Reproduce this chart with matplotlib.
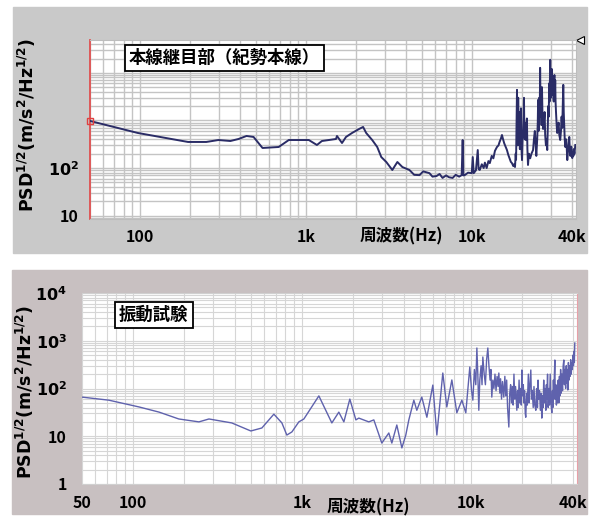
import numpy as np
import matplotlib
matplotlib.use("Agg")
import matplotlib.pyplot as plt
from matplotlib.patches import Rectangle
from matplotlib.ticker import LogLocator, NullFormatter

plt.rcParams['font.family'] = ['Noto Sans CJK JP', 'DejaVu Sans']
plt.rcParams['mathtext.fontset'] = 'dejavusans'

# 上段: 本線継目部(紀勢本線)
top_freq = [50, 97, 195, 251, 297, 351, 393, 439, 484, 548, 686, 789, 907, 1042,
            1166, 1250, 1520, 1540, 1652, 1746, 1900, 2094, 2214, 2310, 2512, 2693,
            2850, 3054, 3320, 3562, 3818, 4210, 4500, 4842, 5100, 5561, 5800, 6133,
            6400, 6668, 7000, 7300, 7670, 8000, 8400, 8695, 8817, 8900, 9070, 9500,
            10000, 10140, 10280, 10600, 10870, 11000, 11170, 11500, 11800, 12000,
            12300, 12600, 12850, 13200, 13500, 13800, 14190, 14500, 14700, 15000,
            15210, 15450, 15700, 16000, 16300, 16600, 16900, 17200, 17470, 17800,
            18000, 18230, 18400, 18500, 18650, 18740, 18820, 18900, 18980, 19050,
            19150, 19270, 19400, 19500, 19650, 19800, 19900, 20090, 20250, 20400,
            20550, 20650, 20750, 20900, 21050, 21230, 21400, 21500, 21650, 21830,
            22100, 22500, 22900, 23420, 23700, 24000, 24300, 24500, 24800, 25000,
            25120, 25250, 25400, 25550, 25700, 25830, 25950, 26100, 26200, 26350,
            26500, 26700, 26930, 27200, 27500, 27700, 28000, 28250, 28510, 28700,
            28900, 29100, 29300, 29450, 29600, 29720, 29850, 30000, 30150, 30300,
            30400, 30600, 30800, 30980, 31100, 31200, 31350, 31500, 31650, 31850,
            32000, 32200, 32500, 32740, 33000, 33400, 33700, 34140, 34500, 34800,
            35100, 35400, 35620, 35850, 36100, 36350, 36620, 36900, 37100, 37400,
            37650, 37900, 38200, 38450, 38710, 39000, 39300, 39500, 39800, 40100,
            40370, 40700, 41000, 41200, 41600, 42090]
top_psd = [975, 546, 353, 353, 388, 370, 408, 472, 450, 264, 277, 388, 388, 388,
           305, 370, 408, 472, 336, 450, 546, 662, 730, 546, 388, 277,
           170, 134, 91, 134, 105, 91, 72, 71, 85, 78, 66, 68,
           75, 62, 70, 64, 62, 72, 66, 71, 388, 70, 71, 80,
           78, 170, 78, 90, 239, 95, 91, 120, 100, 130,
           100, 140, 127, 180, 160, 230, 277, 300, 350, 420,
           495, 400, 330, 280, 239, 190, 160, 135, 127, 110,
           120, 105, 200, 150, 1500, 4390, 400, 1200, 300, 3000,
           500, 450, 1500, 250, 900, 1800, 300, 147, 400, 600,
           1200, 2980, 500, 400, 900, 388, 600, 1100, 250, 116,
           200, 160, 200, 239, 400, 600, 300, 180, 400, 900,
           2700, 600, 800, 3000, 1500, 12740, 3000, 1200, 2000, 800,
           5000, 1200, 662, 900, 1500, 500, 300, 400, 239, 600,
           2000, 1200, 6000, 2500, 9000, 18800, 4000, 3000, 9000, 4000,
           12000, 3500, 8000, 8240, 3000, 2500, 7000, 9000, 3000, 7000,
           2500, 1500, 800, 546, 700, 900, 500, 388, 600, 1200,
           700, 2500, 5590, 1500, 800, 400, 277, 350, 400, 250,
           147, 200, 250, 350, 450, 250, 180, 200, 280, 180,
           162, 220, 180, 250, 200, 305]

# 下段: 振動試験
bot_freq = [50, 72, 109, 143, 187, 246, 282, 385, 499, 580, 683, 762, 815, 873,
            960, 1028, 1261, 1505, 1655, 1773, 1923, 2088, 2173, 2490, 2667, 2973,
            3271, 3409, 3648, 3908, 4123, 4297, 4600, 4790, 5129, 5495, 5960, 6295,
            6827, 7210, 7723, 8266, 8850, 9340, 9863, 10100, 10280, 10500, 10700,
            10860, 11000, 11150, 11300, 11500, 11650, 11780, 12000, 12200, 12400,
            12610, 12800, 13000, 13150, 13310, 13500, 13700, 13900, 14100, 14300,
            14500, 14650, 14850, 15000, 15200, 15400, 15670, 15900, 16100, 16300,
            16500, 16790, 17000, 17200, 17400, 17600, 17800, 18000, 18200, 18400,
            18720, 18900, 19100, 19300, 19500, 19700, 19900, 20040, 20250, 20450,
            20600, 20800, 21000, 21140, 21400, 21600, 21900, 22100, 22300, 22650,
            22850, 23100, 23400, 23650, 23900, 24250, 24500, 24800, 25000, 25200,
            25500, 25800, 26050, 26310, 26550, 26800, 27000, 27200, 27500, 27800,
            28000, 28180, 28450, 28700, 28950, 29200, 29500, 29800, 30150, 30400,
            30600, 30800, 31000, 31200, 31420, 31600, 31850, 32100, 32300, 32600,
            32900, 33180, 33450, 33700, 34000, 34300, 34600, 34900, 35200, 35510,
            35800, 36100, 36400, 36700, 37000, 37300, 37500, 37800, 38100, 38400,
            38700, 39000, 39300, 39620, 39900, 40200, 40500, 40800, 41000, 41230]
bot_psd = [66, 57, 41, 32, 23, 20, 23, 19, 12.9, 14.9, 29, 19, 10.6, 12.3,
           20, 23, 70, 19, 32, 20, 60, 22, 24, 20, 22, 7.2,
           11.7, 7.2, 17.2, 5.7, 10.6, 22, 57, 35, 66, 25, 118, 10.6,
           211, 41, 151, 31, 57, 31, 282, 90, 57, 250, 120,
           705, 200, 35, 150, 300, 120, 457, 200, 120, 400,
           705, 300, 150, 250, 66, 150, 100, 200, 90, 180,
           110, 211, 80, 160, 60, 140, 66, 180, 70, 150,
           40, 15.6, 80, 120, 50, 110, 45, 200, 60, 110,
           35, 90, 40, 150, 50, 100, 45, 244, 70, 120,
           50, 90, 30, 25, 80, 45, 200, 50, 100, 244,
           60, 90, 40, 110, 45, 35, 100, 40, 150, 60,
           90, 35, 80, 24, 70, 40, 150, 50, 100, 35,
           120, 60, 200, 40, 100, 45, 200, 50, 31, 90,
           40, 150, 60, 180, 395, 60, 120, 45, 100, 50,
           150, 50, 180, 70, 250, 80, 200, 90, 300, 395,
           120, 250, 100, 300, 130, 250, 93, 350, 150, 300,
           180, 400, 200, 342, 250, 500, 300, 600, 350, 897]

x_ticks = [100, 1000, 10000, 40000]
x_labels = ['100', '1k', '10k', '40k']

W, H = 595, 517
fig = plt.figure(figsize=(W / 100, H / 100), dpi=100)
fig.patch.set_facecolor('white')

def fx(px):
    return px / W

def fy(py):
    return 1 - py / H

# 背景パネル
fig.patches.append(Rectangle((fx(13), fy(253)), fx(574), 246 / H,
                             transform=fig.transFigure, color='#c9c9c9', zorder=-5))
fig.patches.append(Rectangle((fx(12), fy(514)), fx(575), 244 / H,
                             transform=fig.transFigure, color='#c8c0c1', zorder=-5))

ax1 = fig.add_axes([fx(90), fy(219), fx(486), 179 / H])
ax2 = fig.add_axes([fx(82), fy(484), fx(495), 191 / H])

for ax in (ax1, ax2):
    ax.set_zorder(2)
    ax.set_xscale('log')
    ax.set_yscale('log')
    ax.set_facecolor('white')
    ax.xaxis.set_minor_locator(LogLocator(base=10, subs=np.arange(1, 10), numticks=100))
    ax.yaxis.set_minor_locator(LogLocator(base=10, subs=np.arange(1, 10), numticks=100))
    ax.xaxis.set_minor_formatter(NullFormatter())
    ax.yaxis.set_minor_formatter(NullFormatter())
    ax.tick_params(which='both', length=0)

# 上段
ax1.grid(which='both', color='#c4c4c4', lw=1.0)
ax1.plot(top_freq, top_psd, color='#2a2c66', lw=1.4, zorder=3)
ax1.plot(top_freq[0], top_psd[0], marker='s', ms=4, mfc='none', mec='#e04040',
         mew=1, zorder=4, clip_on=False)
ax1.set_xlim(50, 42500)
ax1.set_ylim(8.5, 49000)
ax1.set_xticks(x_ticks)
ax1.set_xticklabels(x_labels, fontweight='bold', fontsize=11.5)
ax1.set_yticks([10, 100])
ax1.set_yticklabels(['10', r'$\mathbf{10^2}$'], fontweight='bold', fontsize=11.5)
ax1.tick_params(axis='x', pad=7)
ax1.tick_params(axis='y', pad=8)
for s in ('top', 'right', 'bottom'):
    ax1.spines[s].set_color('#bdbdbd')
ax1.spines['left'].set_color('#e05050')
ax1.spines['left'].set_linewidth(1.3)
ax1.plot([1.008], [1.0], marker='<', ms=6, mfc='white', mec='black', mew=0.8,
         transform=ax1.transAxes, clip_on=False)
ax1.text(0.08, 0.90, '本線継目部（紀勢本線）', transform=ax1.transAxes,
         fontsize=12.5, fontweight='bold', va='center', ha='left', zorder=5,
         bbox=dict(boxstyle='square,pad=0.25', fc='white', ec='black', lw=1.3))

# 下段
ax2.grid(which='both', color='#d6d6d6', lw=0.8)
ax2.plot(bot_freq, bot_psd, color='#5f62ad', lw=1.0, zorder=3)
ax2.set_xlim(50, 42500)
ax2.set_ylim(1, 10000)
ax2.set_xticks([50] + x_ticks)
ax2.set_xticklabels(['50'] + x_labels, fontweight='bold', fontsize=11.5)
ax2.set_yticks([1, 10, 100, 1000, 10000])
ax2.set_yticklabels(['1', '10', r'$\mathbf{10^2}$', r'$\mathbf{10^3}$', r'$\mathbf{10^4}$'],
                    fontweight='bold', fontsize=11.5)
ax2.tick_params(axis='x', pad=8)
ax2.tick_params(axis='y', pad=11)
for s in ('top', 'bottom'):
    ax2.spines[s].set_color('#d0d0d0')
ax2.spines['left'].set_visible(False)
ax2.spines['right'].set_color('#e8a0a8')
ax2.text(0.075, 0.885, '振動試験', transform=ax2.transAxes,
         fontsize=12.5, fontweight='bold', va='center', ha='left', zorder=5,
         bbox=dict(boxstyle='square,pad=0.25', fc='white', ec='black', lw=1.3))

ylab = r'$\mathbf{PSD^{1/2}(m/s^2/Hz^{1/2})}$'
fig.text(fx(27), fy(125), ylab, rotation=90, ha='center', va='center', fontsize=12.5)
fig.text(fx(25), fy(392), ylab, rotation=90, ha='center', va='center', fontsize=12.5)
fig.text(fx(401), fy(236), '周波数(Hz)', ha='center', va='center',
         fontsize=12, fontweight='bold')
fig.text(fx(368), fy(507), '周波数(Hz)', ha='center', va='center',
         fontsize=12, fontweight='bold')

fig.savefig('out.png', dpi=100)
